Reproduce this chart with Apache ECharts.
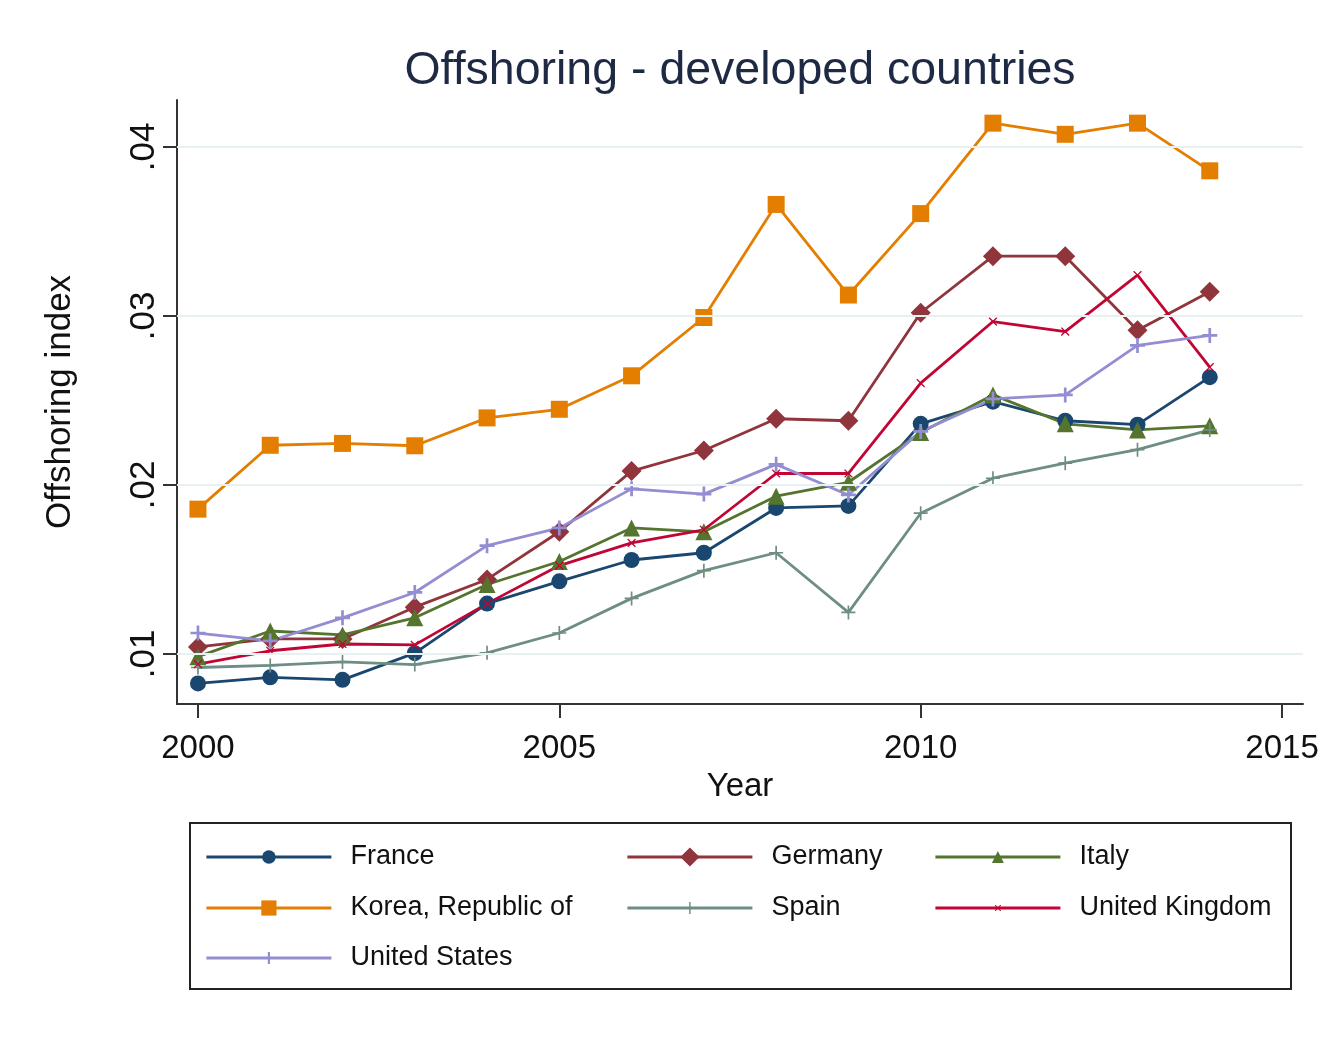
<!DOCTYPE html>
<html>
<head>
<meta charset="utf-8">
<script src="https://cdn.jsdelivr.net/npm/echarts@6/dist/echarts.min.js"></script>
<style>
  html, body { margin: 0; padding: 0; background: #ffffff; }
  #chart { width: 1338px; height: 1038px; }
</style>
</head>
<body>
<div id="chart"></div>
<script>
const years = [2000,2001,2002,2003,2004,2005,2006,2007,2008,2009,2010,2011,2012,2013,2014];
const france  = [0.00826,0.00862,0.00847,0.01005,0.01298,0.01430,0.01556,0.01599,0.01864,0.01876,0.02362,0.02493,0.02380,0.02357,0.02638];
const germany = [0.01042,0.01089,0.01089,0.01277,0.01441,0.01723,0.02082,0.02204,0.02392,0.02380,0.03019,0.03354,0.03354,0.02915,0.03143];
const italy   = [0.00984,0.01136,0.01113,0.01214,0.01411,0.01547,0.01746,0.01723,0.01934,0.02016,0.02310,0.02533,0.02362,0.02326,0.02350];
const korea   = [0.01857,0.02235,0.02246,0.02232,0.02397,0.02448,0.02646,0.02991,0.03660,0.03124,0.03606,0.04141,0.04075,0.04141,0.03859];
const spain   = [0.00920,0.00932,0.00953,0.00937,0.01007,0.01124,0.01329,0.01493,0.01599,0.01246,0.01833,0.02040,0.02129,0.02209,0.02326];
const uk      = [0.00940,0.01019,0.01059,0.01054,0.01298,0.01523,0.01657,0.01735,0.02068,0.02068,0.02603,0.02967,0.02908,0.03242,0.02697];
const us      = [0.01124,0.01077,0.01214,0.01364,0.01641,0.01746,0.01977,0.01946,0.02122,0.01941,0.02317,0.02509,0.02533,0.02826,0.02885];

const seriesNames = ['France','Germany','Italy','Korea, Republic of','Spain','United Kingdom','United States'];
const xTicks = [2000, 2005, 2010, 2015];
const yTicks = [0.01, 0.02, 0.03, 0.04];
const yTickLabels = ['.01', '.02', '.03', '.04'];

const FONT = '"Liberation Sans", Arial, Helvetica, sans-serif';
const colors = ['#1a476f','#90353b','#55752f','#e37e00','#6e8e84','#c10534','#938dd2'];
const PLUS = 'path://M-0.12,-1 L0.12,-1 L0.12,-0.12 L1,-0.12 L1,0.12 L0.12,0.12 L0.12,1 L-0.12,1 L-0.12,0.12 L-1,0.12 L-1,-0.12 L-0.12,-0.12 Z';
const PLUS_THICK = 'path://M-0.18,-1 L0.18,-1 L0.18,-0.18 L1,-0.18 L1,0.18 L0.18,0.18 L0.18,1 L-0.18,1 L-0.18,0.18 L-1,0.18 L-1,-0.18 L-0.18,-0.18 Z';
const symbols = ['circle','diamond','triangle','rect',PLUS,PLUS,PLUS_THICK];
const symbolSizes = [16, 20, 17, 17, 14, 11, 15];
const symbolRotates = [0, 0, 0, 0, 0, 45, 0];
const legendIconSizes = [17, 24, 15, 19, 15, 10, 15];
const dataSets = [france, germany, italy, korea, spain, uk, us];

const series = dataSets.map((vals, i) => ({
  name: seriesNames[i],
  type: 'line',
  data: years.map((y, k) => [y, vals[k]]),
  symbol: symbols[i],
  symbolSize: symbolSizes[i],
  symbolRotate: symbolRotates[i],
  showAllSymbol: true,
  lineStyle: { color: colors[i], width: 2.8 },
  itemStyle: { color: colors[i], borderWidth: 0 },
  emphasis: { disabled: true },
  animation: false,
  z: 3
}));

// gridlines at y ticks, drawn through a background helper series
series.unshift({
  name: '_grid',
  type: 'line',
  data: [],
  silent: true,
  z: 1,
  markLine: {
    silent: true,
    symbol: 'none',
    label: { show: false },
    animation: false,
    lineStyle: { color: '#e8f1f2', width: 2, type: 'solid' },
    data: yTicks.map(v => ({ yAxis: v }))
  }
});

const legendCols = [205, 626, 934];
const legendRows = [857, 908, 958];
const legends = seriesNames.map((n, i) => ({
  data: [n],
  left: legendCols[i % 3],
  top: legendRows[Math.floor(i / 3)] - 15,
  orient: 'horizontal',
  padding: 0,
  itemWidth: 125,
  itemHeight: legendIconSizes[i],
  selectedMode: false,
  lineStyle: { width: 2.8 },
  textStyle: { fontFamily: FONT, fontSize: 27, color: '#111', lineHeight: 30, padding: [0, 0, 0, 14] }
}));

const chart = echarts.init(document.getElementById('chart'), null, { renderer: 'canvas' });
chart.setOption({
  backgroundColor: '#ffffff',
  animation: false,
  color: colors,
  title: {
    text: 'Offshoring - developed countries',
    left: 735, top: 43, textAlign: 'center',
    textStyle: { fontFamily: FONT, fontSize: 46.5, fontWeight: 'normal', color: '#1e2a44' }
  },
  grid: { left: 177, right: 35, top: 100, bottom: 334, containLabel: false },
  xAxis: {
    type: 'value',
    min: 1999.71, max: 2015.29,
    name: 'Year', nameLocation: 'middle', nameGap: 66,
    nameTextStyle: { fontFamily: FONT, fontSize: 33, color: '#111' },
    axisLine: { show: true, onZero: false, lineStyle: { color: '#333', width: 2 } },
    axisTick: { show: true, length: 14, lineStyle: { color: '#333', width: 2 }, customValues: xTicks },
    axisLabel: { fontFamily: FONT, fontSize: 33, color: '#111', margin: 28, customValues: xTicks, formatter: v => String(v) },
    splitLine: { show: false }
  },
  yAxis: {
    type: 'value',
    min: 0.00704, max: 0.04278,
    name: 'Offshoring index', nameLocation: 'middle', nameGap: 99, nameRotate: 90,
    nameTextStyle: { fontFamily: FONT, fontSize: 35, color: '#111' },
    axisLine: { show: true, onZero: false, lineStyle: { color: '#333', width: 2 } },
    axisTick: { show: true, length: 14, lineStyle: { color: '#333', width: 2 }, customValues: yTicks },
    axisLabel: {
      fontFamily: FONT, fontSize: 35, color: '#111', margin: 15, rotate: 90,
      customValues: yTicks,
      formatter: v => { const k = yTicks.findIndex(t => Math.abs(t - v) < 1e-9); return k >= 0 ? yTickLabels[k] : ''; }
    },
    splitLine: { show: false }
  },
  legend: legends,
  graphic: [{
    type: 'rect',
    shape: { x: 190, y: 823, width: 1101, height: 166 },
    style: { fill: 'none', stroke: '#222', lineWidth: 2 },
    silent: true
  }],
  series: series
});
</script>
</body>
</html>
